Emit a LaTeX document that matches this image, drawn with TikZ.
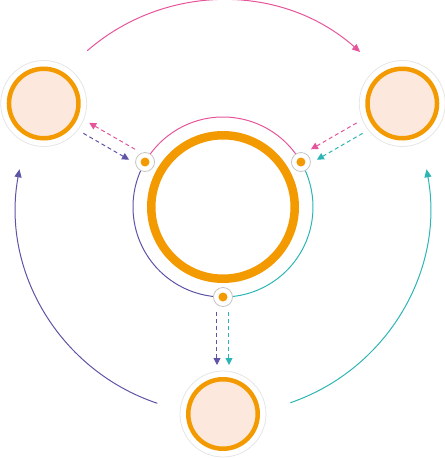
\documentclass[tikz,border=0pt]{standalone}
\usepackage{xcolor}
\usetikzlibrary{arrows.meta}

\definecolor{cpink}{HTML}{E6559B}
\definecolor{cpurple}{HTML}{5D54A6}
\definecolor{cteal}{HTML}{2DB5B5}
\definecolor{corange}{HTML}{F39A00}
\definecolor{cpeach}{HTML}{FDE8DD}
\definecolor{chalo}{HTML}{E6E6E6}
\definecolor{cport}{HTML}{C4C4C4}

\tikzset{
  halo/.style={circle, draw=chalo, line width=0.8pt, fill=white, minimum size=86pt, inner sep=0pt},
  sat/.style={circle, draw=corange, line width=4.5pt, fill=cpeach, minimum size=69.5pt, inner sep=0pt},
  port/.style={circle, draw=cport, line width=0.8pt, fill=white, minimum size=19pt, inner sep=0pt},
  dot/.style={circle, fill=corange, minimum size=9pt, inner sep=0pt},
  link/.style={line width=1pt},
  tip/.style={-{Triangle[length=8pt,width=7pt]}},
  dashout/.style={line width=1pt, dash pattern=on 4pt off 3pt, -{Triangle[length=7pt,width=7pt]}, shorten <=15pt, shorten >=49pt},
  dashin/.style={line width=1pt, dash pattern=on 4pt off 3pt, {Triangle[length=7pt,width=7pt]}-, shorten <=15pt, shorten >=49pt}
}

\begin{document}
\begin{tikzpicture}[x=1pt,y=1pt]
\useasboundingbox (-223,-252) rectangle (222,207);
% points on the inner track, where the ports sit
\coordinate (pl) at (150:90);
\coordinate (pr) at (30:90);
\coordinate (pb) at (270:90);
% inner track, one colour per third
\draw[link, cpink] (pr) arc[start angle=30, end angle=150, radius=90];
\draw[link, cpurple] (pl) arc[start angle=150, end angle=270, radius=90];
\draw[link, cteal] (pb) arc[start angle=270, end angle=390, radius=90];
% the big ring in the middle
\node[circle, draw=corange, line width=8.5pt, minimum size=143.5pt, inner sep=0pt] (core) at (0,0) {};
% ports
\node[port] (portl) at (pl) {};
\node[port] (portr) at (pr) {};
\node[port] (portb) at (pb) {};
\node[dot] at (portl) {};
\node[dot] at (portr) {};
\node[dot] at (portb) {};
% outer satellites
\node[halo] (hl) at (150:207) {};
\node[halo] (hr) at (30:207) {};
\node[halo] (hb) at (270:207) {};
\node[sat] (left) at (hl) {};
\node[sat] (right) at (hr) {};
\node[sat] (bottom) at (hb) {};
% outer track, from satellite to satellite
\coordinate (s1) at (131:207);
\coordinate (s2) at (251.5:207);
\coordinate (s3) at (-71:207);
\draw[link, cpink, tip] (s1) arc[start angle=131, end angle=48.5, radius=207];
\draw[link, cpurple, tip] (s2) arc[start angle=251.5, end angle=169.5, radius=207];
\draw[link, cteal, tip] (s3) arc[start angle=-71, end angle=10.5, radius=207];
% dashed pairs between ports and satellites
\draw[dashout, cpink] ([shift={(60:6)}]portl.center) -- ([shift={(60:6)}]left.center);
\draw[dashin, cpurple] ([shift={(240:6)}]portl.center) -- ([shift={(240:6)}]left.center);
\draw[dashin, cpink] ([shift={(120:6)}]portr.center) -- ([shift={(120:6)}]right.center);
\draw[dashin, cteal] ([shift={(300:6)}]portr.center) -- ([shift={(300:6)}]right.center);
\draw[dashout, cpurple] ([shift={(180:6)}]portb.center) -- ([shift={(180:6)}]bottom.center);
\draw[dashout, cteal] ([shift={(0:6)}]portb.center) -- ([shift={(0:6)}]bottom.center);
\end{tikzpicture}
\end{document}
